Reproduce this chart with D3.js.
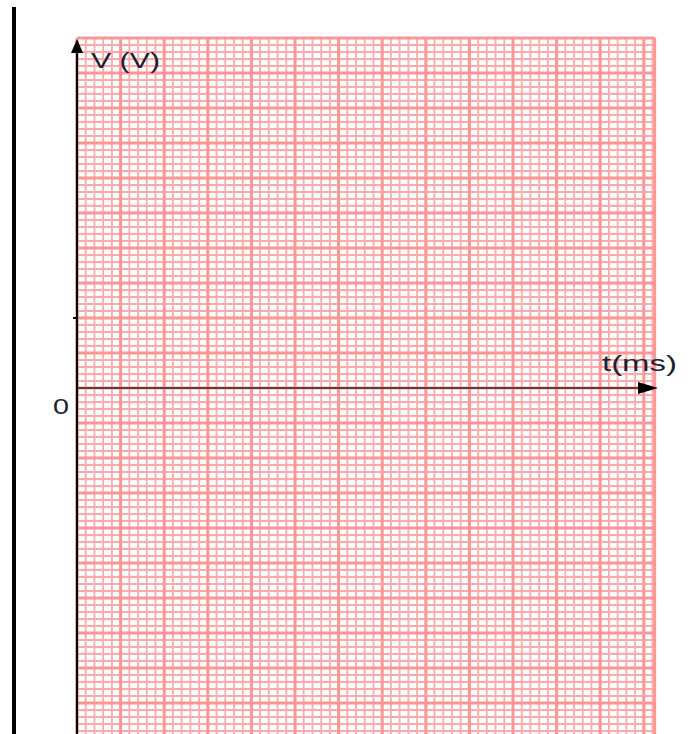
<!doctype html>
<html>
<head>
<meta charset="utf-8">
<title></title>
<style>
body{ margin:0; background:#fff; }
svg{ display:block; }
</style>
</head>
<body>
<svg></svg>
<script src="https://cdn.jsdelivr.net/npm/d3@7"></script>
<script>
   // axis ranges of the graph paper (in major squares)
   var tRange = [0, 13.25];
   var vRange = [-10, 10];
   var subdivisions = [5, 5];          // minor lines per major square (t, V)
   var vTickMarks = [2];               // small tick drawn on the V axis
   var axisLabels = ["t(ms)", "V (V)"];
   var originLabel = ["0"];

   var width = 697;
   var height = 734;

   var svg = d3.select('svg')
           .attr('width', width)
           .attr('height', height);

   var x = d3.scaleLinear().domain(tRange).range([77, 654.7]);
   var y = d3.scaleLinear().domain(vRange).range([738, 38]);

   // left margin line
   svg.append("line")
      .attr("x1", 14).attr("x2", 14)
      .attr("y1", 7).attr("y2", height)
      .attr("stroke", "#000")
      .attr("stroke-width", 4);

   var grid = svg.append("g");

   var xMinor = d3.range(tRange[0], tRange[1] + 1e-9, 1 / subdivisions[0]);
   var yMinor = d3.range(vRange[0], vRange[1] + 1e-9, 1 / subdivisions[1]);
   var xMajor = d3.range(tRange[0], tRange[1] + 1e-9, 1);
   var yMajor = d3.range(vRange[0], vRange[1] + 1e-9, 1);

   grid.selectAll(".vminor")
       .data(xMinor)
       .enter()
       .append("line")
       .attr("x1", function(d){ return x(d); })
       .attr("x2", function(d){ return x(d); })
       .attr("y1", y(vRange[1])).attr("y2", y(vRange[0]))
       .attr("stroke", "#ffaaaa")
       .attr("stroke-width", 1.8);

   grid.selectAll(".hminor")
       .data(yMinor)
       .enter()
       .append("line")
       .attr("y1", function(d){ return y(d); })
       .attr("y2", function(d){ return y(d); })
       .attr("x1", x(tRange[0])).attr("x2", x(tRange[1]))
       .attr("stroke", "#ffaaaa")
       .attr("stroke-width", 1.8);

   grid.selectAll(".vmajor")
       .data(xMajor.concat([tRange[1]]))
       .enter()
       .append("line")
       .attr("x1", function(d){ return x(d); })
       .attr("x2", function(d){ return x(d); })
       .attr("y1", y(vRange[1])).attr("y2", y(vRange[0]))
       .attr("stroke", "#ff9696")
       .attr("stroke-width", 3);

   grid.selectAll(".hmajor")
       .data(yMajor)
       .enter()
       .append("line")
       .attr("y1", function(d){ return y(d); })
       .attr("y2", function(d){ return y(d); })
       .attr("x1", x(tRange[0])).attr("x2", x(tRange[1]))
       .attr("stroke", "#ff9696")
       .attr("stroke-width", 3);

   // axes
   svg.append("line")
      .attr("x1", x(0)).attr("x2", x(0))
      .attr("y1", y(vRange[1]) + 10).attr("y2", height)
      .attr("stroke", "#000")
      .attr("stroke-width", 2.2);
   svg.append("path")
      .attr("d", "M" + x(0) + "," + (y(vRange[1]) + 1) + " l-6,14 l12,0 z")
      .attr("fill", "#000");

   svg.append("line")
      .attr("x1", x(0)).attr("x2", 645)
      .attr("y1", y(0)).attr("y2", y(0))
      .attr("stroke", "#222")
      .attr("stroke-width", 1.6);
   svg.append("path")
      .attr("d", "M" + 658 + "," + y(0) + " l-20,-6 l0,12 z")
      .attr("fill", "#000");

   svg.selectAll(".vtick")
      .data(vTickMarks)
      .enter()
      .append("line")
      .attr("x1", x(0) - 4).attr("x2", x(0))
      .attr("y1", function(d){ return y(d); })
      .attr("y2", function(d){ return y(d); })
      .attr("stroke", "#000")
      .attr("stroke-width", 2);

   // labels
   svg.append("text")
      .attr("x", 602).attr("y", 371)
      .attr("textLength", 75)
      .attr("lengthAdjust", "spacingAndGlyphs")
      .attr("fill", "#1c2233")
      .style("font-family", "Liberation Sans, Arial, sans-serif")
      .style("font-size", "22px")
      .text(axisLabels[0]);

   svg.append("text")
      .attr("x", 91).attr("y", 68)
      .attr("textLength", 69)
      .attr("lengthAdjust", "spacingAndGlyphs")
      .attr("fill", "#1c2233")
      .style("font-family", "Liberation Sans, Arial, sans-serif")
      .style("font-size", "22px")
      .text(axisLabels[1]);

   svg.append("text")
      .attr("x", 53).attr("y", 414)
      .attr("textLength", 16)
      .attr("lengthAdjust", "spacingAndGlyphs")
      .attr("fill", "#1c2233")
      .style("font-family", "Liberation Sans, Arial, sans-serif")
      .style("font-size", "22px")
      .text(originLabel[0]);
</script>
</body>
</html>
